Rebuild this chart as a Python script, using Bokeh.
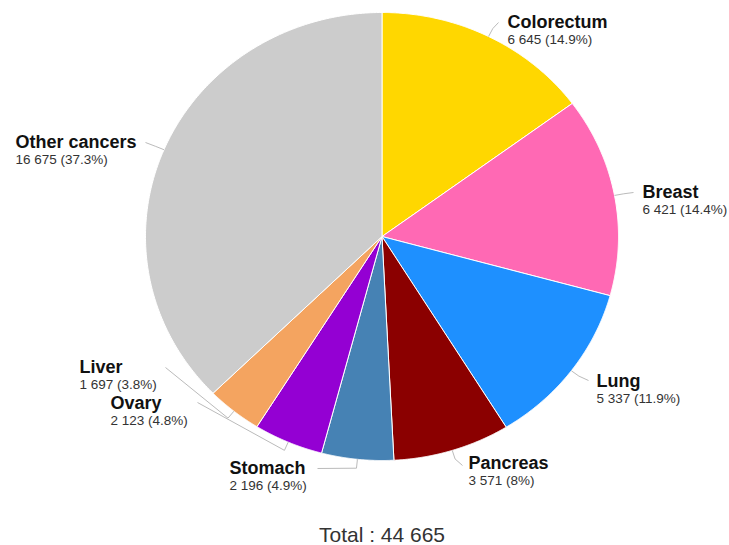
import numpy as np
from bokeh.plotting import figure
from bokeh.models import Range1d, ColumnDataSource
from bokeh.core.properties import value
from bokeh.embed import file_html
from bokeh.resources import INLINE

# ---- data ----
categories = ["Colorectum", "Breast", "Lung", "Pancreas", "Stomach", "Ovary", "Liver", "Other cancers"]
counts = [6645, 6421, 5337, 3571, 2196, 2123, 1697, 16675]
colors = ["#FFD700", "#FF69B4", "#1E90FF", "#8B0000", "#4682B4", "#9400D3", "#F4A460", "#CCCCCC"]

# ---- layout (pixels) ----
W, H = 729, 545
CX, CY = 381.5, 236.0
RX, RY = 236.5, 224.0
# label left x, name baseline y, connector end x, connector end y
label_layout = {
    "Colorectum": (507, 27, 498, 22),
    "Breast": (642, 197, 633, 192),
    "Lung": (596, 386, 588, 380),
    "Pancreas": (468, 468, 462, 465),
    "Stomach": (229, 473, 317, 468),
    "Ovary": (110, 408, 197, 402),
    "Liver": (79, 372, 165, 367),
    "Other cancers": (15, 147, 145, 142),
}
NAME_SHIFT = -6
VAL_SHIFT = 16.5 - 5


def dx(px):
    return (px - CX) / RX


def dy(py):
    return (CY - py) / RY


def fmt_num(n):
    return f"{n:,}".replace(",", " ")


def fmt_pct(f):
    s = f"{f * 100:.1f}"
    if s.endswith(".0"):
        s = s[:-2]
    return s + "%"


total = sum(counts)
fracs = np.array(counts) / total
ends = np.cumsum(fracs)
starts = ends - fracs

p = figure(width=W, height=H, output_backend="svg", toolbar_location=None,
           x_range=Range1d(dx(0), dx(W)), y_range=Range1d(dy(H), dy(0)),
           x_axis_location=None, y_axis_location=None, min_border=0)
p.grid.visible = False
p.outline_line_color = None
p.background_fill_color = "white"
p.border_fill_color = "white"

xs, ys = [], []
for s, e in zip(starts, ends):
    th = np.pi / 2 - 2 * np.pi * np.linspace(s, e, 200)
    xs.append([0.0] + list(np.cos(th)))
    ys.append([0.0] + list(np.sin(th)))

p.patches(xs=xs, ys=ys, fill_color=colors, line_color="white", line_width=1)

# connectors
lx, ly = [], []
name_x, name_y, val_y, names, vals = [], [], [], [], []
for cat, s, e, c in zip(categories, starts, ends, counts):
    mid = np.pi / 2 - 2 * np.pi * (s + e) / 2
    tx, ty, ex, ey = label_layout[cat]
    p0 = (np.cos(mid) * 1.0, np.sin(mid) * 1.0)
    p1 = (np.cos(mid) * 1.04, np.sin(mid) * 1.04)
    lx.append([p0[0], p1[0], dx(ex)])
    ly.append([p0[1], p1[1], dy(ey)])
    name_x.append(dx(tx))
    name_y.append(dy(ty + NAME_SHIFT))
    val_y.append(dy(ty + VAL_SHIFT))
    names.append(cat)
    vals.append(f"{fmt_num(c)} ({fmt_pct(c / total)})")

p.multi_line(xs=lx, ys=ly, line_color="#BBBBBB", line_width=1)

src = ColumnDataSource(dict(x=name_x, yn=name_y, yv=val_y, name=names, val=vals))
p.text(x="x", y="yn", text="name", source=src, text_font=value("Liberation Sans"),
       text_font_style="bold", text_font_size="18px", text_color="#111111",
       text_baseline="alphabetic", text_align="left")
p.text(x="x", y="yv", text="val", source=src, text_font=value("Liberation Sans"),
       text_font_size="13.5px", text_color="#333333",
       text_baseline="alphabetic", text_align="left")

p.text(x=[dx(381.5)], y=[dy(533.5)], text=[f"Total : {fmt_num(total)}"],
       text_font=value("Liberation Sans"), text_font_size="21px", text_color="#333333",
       text_baseline="alphabetic", text_align="center")

open("out.html", "w").write(file_html(p, INLINE))
